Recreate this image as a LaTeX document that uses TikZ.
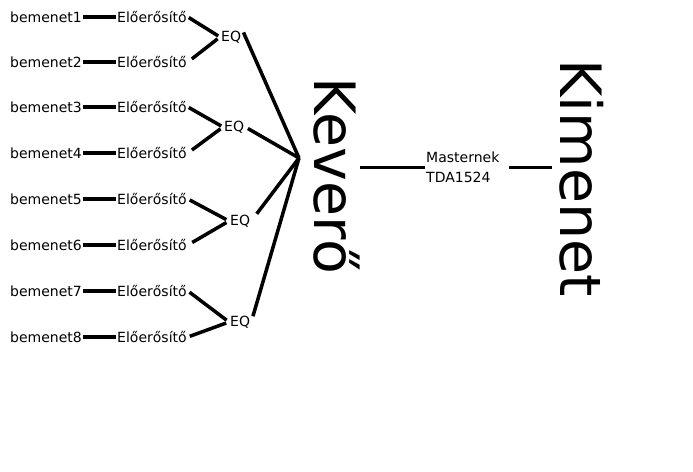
\documentclass[tikz,border=0pt]{standalone}
\usepackage{fontspec}
\setmainfont{DejaVu Sans}
\usetikzlibrary{positioning}

\begin{document}
\begin{tikzpicture}[
    x=1pt, y=-1pt,
    node distance=0pt and 33pt,
    lbl/.style={font=\fontsize{14}{16}\selectfont, inner sep=1pt},
    inp/.style={lbl, anchor=west},
    amp/.style={lbl},
    eqbox/.style={lbl, anchor=west},
    big/.style={font=\fontsize{57}{60}\selectfont, rotate=-90, inner sep=0pt},
    wire/.style={line width=3.5pt},
    thinwire/.style={line width=3pt}
  ]
  \useasboundingbox (0,0) rectangle (693,471);

  % --- inputs ---
  \node[inp] (b1) at (9,17)  {bemenet1};
  \node[inp] (b2) at (9,62)  {bemenet2};
  \node[inp] (b3) at (9,107) {bemenet3};
  \node[inp] (b4) at (9,153) {bemenet4};
  \node[inp] (b5) at (9,199) {bemenet5};
  \node[inp] (b6) at (9,245) {bemenet6};
  \node[inp] (b7) at (9,291) {bemenet7};
  \node[inp] (b8) at (9,337) {bemenet8};

  % --- preamps ---
  \node[amp, right=of b1] (e1) {Előerősítő};
  \node[amp, right=of b2] (e2) {Előerősítő};
  \node[amp, right=of b3] (e3) {Előerősítő};
  \node[amp, right=of b4] (e4) {Előerősítő};
  \node[amp, right=of b5] (e5) {Előerősítő};
  \node[amp, right=of b6] (e6) {Előerősítő};
  \node[amp, right=of b7] (e7) {Előerősítő};
  \node[amp, right=of b8] (e8) {Előerősítő};

  % --- EQ stages ---
  \node[eqbox] (q1) at (220,37)  {EQ};
  \node[eqbox] (q2) at (223,127) {EQ};
  \node[eqbox] (q3) at (229,221) {EQ};
  \node[eqbox] (q4) at (229,322) {EQ};

  % --- mixer and output ---
  \coordinate (mix) at (299,158);
  \node[big] (kever) at (337,176) {Keverő};
  \node[lbl, align=left, anchor=west, font=\fontsize{14}{20}\selectfont] (mast) at (425,167) {Masternek\\TDA1524};
  \node[big] (kim) at (582,178) {Kimenet};

  % wires
  \draw[wire] (b1) -- (e1);
  \draw[wire] (b2) -- (e2);
  \draw[wire] (b3) -- (e3);
  \draw[wire] (b4) -- (e4);
  \draw[wire] (b5) -- (e5);
  \draw[wire] (b6) -- (e6);
  \draw[wire] (b7) -- (e7);
  \draw[wire] (b8) -- (e8);

  \draw[wire, shorten <=1pt, shorten >=2pt] (e1.east) -- (q1.west);
  \draw[wire, shorten <=5pt, shorten >=3pt] (e2.east) -- (q1.west);
  \draw[wire, shorten <=1pt, shorten >=2pt] (e3.east) -- (q2.west);
  \draw[wire, shorten <=5pt, shorten >=3pt] (e4.east) -- (q2.west);
  \draw[wire, shorten <=2pt, shorten >=3pt] (e5.east) -- (q3.west);
  \draw[wire, shorten <=5pt, shorten >=3pt] (e6.east) -- (q3.west);
  \draw[wire, shorten <=2pt, shorten >=3pt] (e7.east) -- (q4.west);
  \draw[wire, shorten <=2pt, shorten >=3pt] (e8.east) -- (q4.west);

  \draw[wire, shorten <=3pt] (q1.north east) -- (mix);
  \draw[wire, shorten <=3pt] (q2.east) -- (mix);
  \draw[wire, shorten <=9pt] (q3.east) -- (mix);
  \draw[wire, shorten <=6pt] (q4.east) -- (mix);

  \draw[thinwire] (kever.north |- mast.west) -- (mast.west);
  \draw[thinwire, shorten <=8pt, shorten >=8pt] (mast.east) -- (kim.south |- mast.east);
\end{tikzpicture}
\end{document}
